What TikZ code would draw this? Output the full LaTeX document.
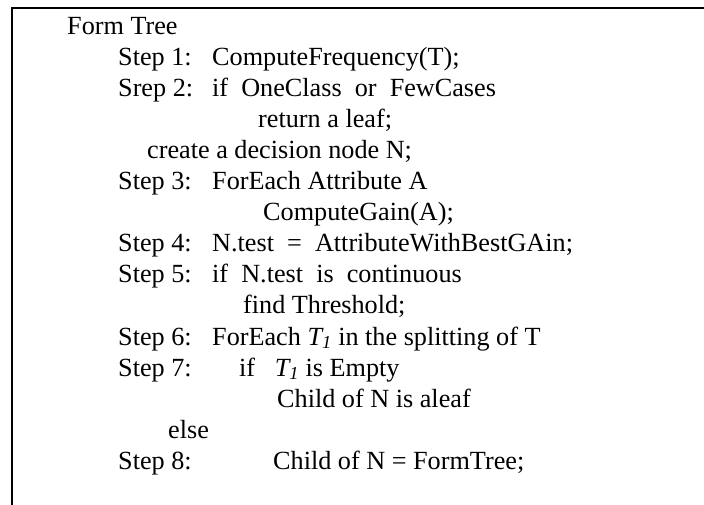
\documentclass[tikz,border=0pt]{standalone}
\usepackage{fontspec}
\setmainfont{Liberation Serif}
\usetikzlibrary{positioning}
\def\lh{31.1}
\def\labx{118}
\def\codex{212}
\tikzset{
    txt/.style={
        anchor=base west,
        inner sep=0pt,
        font=\fontsize{26.2}{30}\selectfont,
    },
    frame/.style={
        line width=2pt,
    },
}
\newcommand{\Tone}{{\itshape T\textsubscript{1}}}

\begin{document}
\begin{tikzpicture}[x=1pt,y=-1pt]
        \useasboundingbox (0,0) rectangle (704,504);
        % open frame, top and left only
        \coordinate (tl) at (12,8);
        \coordinate (tr) at (706,8);
        \coordinate (bl) at (12,506);
        \draw [frame] (tr) -- (tl) -- (bl);

        \node (title) [txt] at (67,{34+0*\lh}) {Form Tree};

        \node (s1) [txt] at (\labx,{34+1*\lh}) {Step 1:};
        \node (s1c) [txt] at (\codex,{34+1*\lh}) {ComputeFrequency(T);};

        \node (s2) [txt] at (\labx,{34+2*\lh}) {Srep 2:};
        \node (s2c) [txt] at (\codex,{34+2*\lh}) {if\ \ OneClass\ \ or\ \ FewCases};
        \node (s2r) [txt] at (258,{34+3*\lh}) {return a leaf;};

        \node (mk) [txt] at (147,{34+4*\lh}) {create a decision node N;};

        \node (s3) [txt] at (\labx,{34+5*\lh}) {Step 3:};
        \node (s3c) [txt] at (\codex,{34+5*\lh}) {ForEach Attribute A};
        \node (s3g) [txt] at (263,{34+6*\lh}) {ComputeGain(A);};

        \node (s4) [txt] at (\labx,{34+7*\lh}) {Step 4:};
        \node (s4c) [txt] at (\codex,{34+7*\lh}) {N.test\ \ =\ \ AttributeWithBestGAin;};

        \node (s5) [txt] at (\labx,{34+8*\lh}) {Step 5:};
        \node (s5c) [txt] at (\codex,{34+8*\lh}) {if\ \ N.test\ \ is\ \ continuous};
        \node (s5t) [txt] at (243,{34+9*\lh}) {find Threshold;};

        \node (s6) [txt] at (\labx,{34+10*\lh}) {Step 6:};
        \node (s6c) [txt] at (\codex,{34+10*\lh}) {ForEach \Tone{} in the splitting of T};

        \node (s7) [txt] at (\labx,{34+11*\lh}) {Step 7:};
        \node (s7c) [txt] at (239,{34+11*\lh}) {if\ \ \ \Tone{} is Empty};
        \node (s7l) [txt] at (277,{34+12*\lh}) {Child of N is aleaf};
        \node (els) [txt] at (168,{34+13*\lh}) {else};

        \node (s8) [txt] at (\labx,{34+14*\lh}) {Step 8:};
        \node (s8c) [txt] at (273,{34+14*\lh}) {Child of N = FormTree;};

    \end{tikzpicture}
\end{document}
